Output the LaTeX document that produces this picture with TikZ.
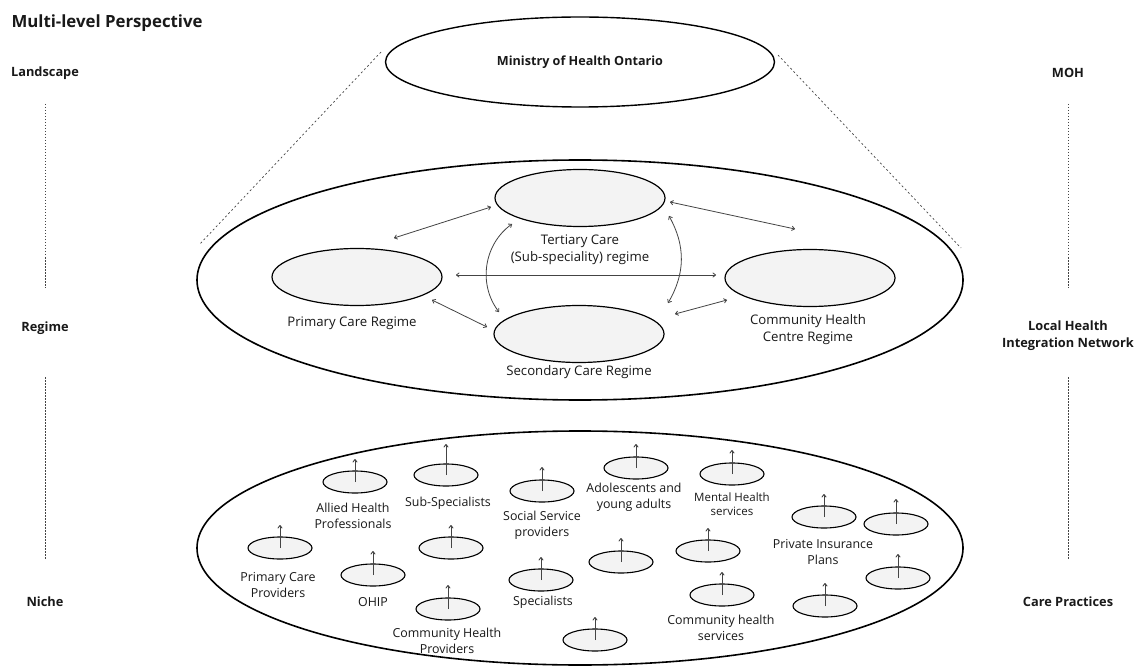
\documentclass[tikz,border=0pt]{standalone}
\usepackage{fontspec}
\setmainfont{Open Sans}
\usetikzlibrary{shapes.geometric,arrows.meta,calc}
\definecolor{inkgrey}{HTML}{444444}
\definecolor{softfill}{HTML}{F3F3F3}
\begin{document}
\begin{tikzpicture}[x=1pt,y=-1pt,
  every node/.style={text=black!90},
  lbl/.style={align=center,font=\fontsize{12.4}{16}\selectfont},
  reglbl/.style={align=center,font=\fontsize{13.2}{17}\selectfont},
  sidelbl/.style={align=center,font=\bfseries\fontsize{12.8}{17}\selectfont},
  guide/.style={inkgrey,line width=0.7pt,dash pattern=on 1.5pt off 1.5pt},
  zoomline/.style={inkgrey,line width=0.7pt,dash pattern=on 2pt off 2.5pt},
  bigoval/.style={ellipse,draw=black,fill=white,line width=1.6pt,inner sep=0pt},
  regimeoval/.style={ellipse,draw=black,fill=softfill,line width=1.2pt,inner sep=0pt,minimum width=170pt,minimum height=57pt},
  practice/.style={ellipse,draw=black,fill=softfill,line width=1.1pt,inner sep=0pt,minimum width=64pt,minimum height=22pt},
  link/.style={inkgrey,line width=0.8pt,{To[length=3.5pt,width=5pt]}-{To[length=3.5pt,width=5pt]}},
  rise/.style={inkgrey,line width=0.9pt,-{To[length=3.5pt,width=5pt]}}]
\useasboundingbox (0,0) rectangle (1140,668);

% titles and level names
\node[anchor=west,font=\bfseries\fontsize{16.8}{20}\selectfont] (title) at (8,23) {Multi-level Perspective};
\node[sidelbl] (landscape) at (45,73) {Landscape};
\node[sidelbl] (regimelbl) at (45,328) {Regime};
\node[sidelbl] (nichelbl) at (45,602) {Niche};
\node[sidelbl] (moh) at (1068,73) {MOH};
\node[sidelbl] (lhin) at (1068,336) {Local Health\\Integration Network};
\node[sidelbl] (care) at (1068,602) {Care Practices};
\draw[guide] (45,104) -- (45,288);
\draw[guide] (45,377) -- (45,560);
\draw[guide] (1068,104) -- (1068,288);
\draw[guide] (1068,377) -- (1068,560);

% landscape
\draw[zoomline] (381,52) -- (199,245);
\draw[zoomline] (778,55) -- (961,248);
\node[bigoval,line width=1.4pt,minimum width=389pt,minimum height=90pt] (ministry) at (580,62) {};
\node[font=\bfseries\fontsize{12.6}{15}\selectfont] at (ministry) {Ministry of Health Ontario};

% regime
\node[bigoval,minimum width=766pt,minimum height=240pt] (regime) at (580,280) {};
\node[regimeoval] (tertiary) at (580,198) {};
\node[regimeoval] (secondary) at (579,334) {};
\node[regimeoval] (primary) at (357,277) {};
\node[regimeoval] (community) at (810,278) {};
\node[reglbl] at (580,250) {Tertiary Care\\(Sub-speciality) regime};
\node[reglbl] at (579,372) {Secondary Care Regime};
\node[reglbl] at (352,323) {Primary Care Regime};
\node[reglbl] at (808,330) {Community Health\\Centre Regime};
\draw[link] ($(primary)+(37,-39)$) -- ($(tertiary)+(-89,9)$);
\draw[link] ($(tertiary)+(90,4)$) -- ($(community)+(-15,-49)$);
\draw[link] ($(primary)+(99,-2)$) -- ($(community)+(-94,-3)$);
\draw[link] ($(primary)+(75,23)$) -- ($(secondary)+(-92,-7)$);
\draw[link] ($(secondary)+(96,-20)$) -- ($(community)+(-83,22)$);
\draw[link] ($(tertiary)+(-68,26)$) to[bend right=46] ($(secondary)+(-80,-22)$);
\draw[link] ($(tertiary)+(89,18)$) to[bend left=30] ($(secondary)+(89,-31)$);

% niche
\node[bigoval,minimum width=766pt,minimum height=234pt] (niche) at (580,548) {};
\foreach \nm/\px/\py/\ln in {allied/355/482/23, subspec/446/475/31, social/542/491/24,
    primcare/280/548/23, blankA/451/548/23, ohip/373/575/24, specialists/541/580/23,
    chprov/448/609/24, blankB/595/640/23, adolescents/636/468/24, mental/732/474/24,
    blankC/621/562/24, blankD/708/551/23, chserv/722/595/23,
    insA/824/517/23, insB/896/524/25, insC/898/578/24, insD/825/606/23}{
  \node[practice] (\nm) at (\px,\py) {};
  \path (\nm.center) ++(0,-\ln) coordinate (\nm-top);
  \draw[rise] (\nm.center) -- (\nm-top);
}
\node[lbl] at (353,516) {Allied Health\\Professionals};
\node[lbl] at (448,503) {Sub-Specialists};
\node[lbl] at (542,525) {Social Service\\providers};
\node[lbl] at (278,585) {Primary Care\\Providers};
\node[lbl] at (373,602) {OHIP};
\node[lbl] at (543,602) {Specialists};
\node[lbl] at (447,641) {Community Health\\Providers};
\node[lbl] at (634,497) {Adolescents and\\young adults};
\node[lbl,font=\fontsize{11.5}{14}\selectfont] at (732,504) {Mental Health\\services};
\node[lbl] at (823,552) {Private Insurance\\Plans};
\node[lbl] at (721,628) {Community health\\services};
\end{tikzpicture}
\end{document}
